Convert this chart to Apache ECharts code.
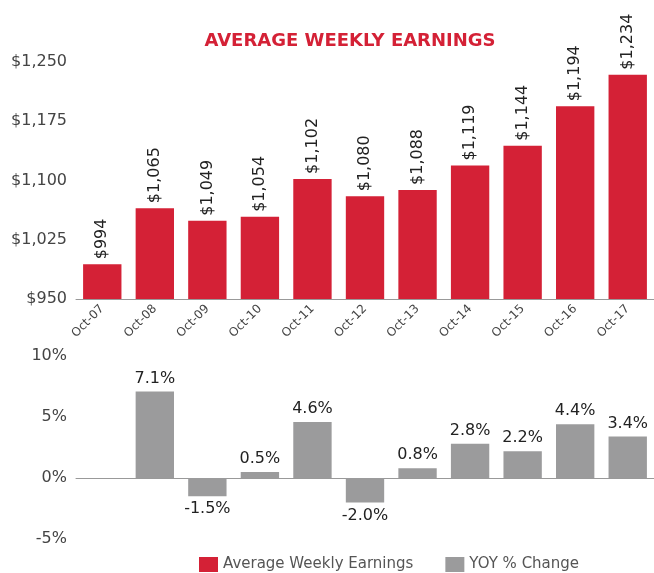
<!DOCTYPE html>
<html>
<head>
<meta charset="utf-8">
<script src="https://cdn.jsdelivr.net/npm/echarts@6/dist/echarts.min.js"></script>
<style>
html, body { margin: 0; padding: 0; background: #fff; }
#main { width: 654px; height: 573px; }
</style>
</head>
<body>
<div id="main"></div>
<script>
var months = ['Oct-07', 'Oct-08', 'Oct-09', 'Oct-10', 'Oct-11', 'Oct-12', 'Oct-13', 'Oct-14', 'Oct-15', 'Oct-16', 'Oct-17'];
var earnings = [994, 1065, 1049, 1054, 1102, 1080, 1088, 1119, 1144, 1194, 1234];
var yoy = [null, 7.1, -1.5, 0.5, 4.6, -2.0, 0.8, 2.8, 2.2, 4.4, 3.4];

var RED = '#d42136';
var GREY = '#9b9b9c';
var FONT = 'DejaVu Sans';

var chart = echarts.init(document.getElementById('main'));

function money(v) {
    return '$' + echarts.format.addCommas(v);
}

var option = {
    animation: false,
    textStyle: { fontFamily: FONT },
    title: {
        text: 'AVERAGE WEEKLY EARNINGS',
        left: 345,
        textAlign: 'center',
        top: 27,
        textStyle: { color: RED, fontSize: 18, fontWeight: 'bold', fontFamily: FONT }
    },
    legend: {
        top: 552,
        left: 194,
        itemGap: 32,
        itemWidth: 19,
        itemHeight: 15,
        icon: 'rect',
        textStyle: { color: '#555', fontSize: 15, fontFamily: FONT },
        data: ['Average Weekly Earnings', 'YOY % Change']
    },
    grid: [
        { left: 76, top: 62, width: 581, height: 237 },
        { left: 76, top: 356, width: 581, height: 183 }
    ],
    xAxis: [
        {
            type: 'category', gridIndex: 0, data: months,
            axisLine: { lineStyle: { color: '#999' } },
            axisTick: { show: false },
            axisLabel: { rotate: 45, color: '#444', fontSize: 12, margin: 8 }
        },
        {
            type: 'category', gridIndex: 1, data: months,
            axisLine: { onZero: true, lineStyle: { color: '#999' } },
            axisTick: { show: false },
            axisLabel: { show: false }
        }
    ],
    yAxis: [
        {
            type: 'value', gridIndex: 0, min: 950, max: 1250, interval: 75,
            splitLine: { show: false },
            axisLine: { show: false },
            axisLabel: { color: '#444', fontSize: 16, margin: 9, formatter: money }
        },
        {
            type: 'value', gridIndex: 1, min: -5, max: 10, interval: 5,
            splitLine: { show: false },
            axisLine: { show: false },
            axisLabel: { color: '#444', fontSize: 16, margin: 9, formatter: '{value}%' }
        }
    ],
    series: [
        {
            name: 'Average Weekly Earnings',
            type: 'bar',
            xAxisIndex: 0, yAxisIndex: 0,
            data: earnings,
            barWidth: '73%',
            itemStyle: { color: RED },
            label: {
                show: true, position: 'top', rotate: 90, align: 'left', verticalAlign: 'middle',
                distance: 5, color: '#222', fontSize: 16,
                formatter: function (p) { return money(p.value); }
            }
        },
        {
            name: 'YOY % Change',
            type: 'bar',
            xAxisIndex: 1, yAxisIndex: 1,
            barWidth: '73%',
            data: yoy.map(function (v) {
                return { value: v, label: { position: v < 0 ? 'bottom' : 'top' } };
            }),
            itemStyle: { color: GREY },
            label: {
                show: true, distance: 5, color: '#222', fontSize: 16,
                formatter: function (p) { return p.value.toFixed(1) + '%'; }
            }
        }
    ]
};

chart.setOption(option);
</script>
</body>
</html>
